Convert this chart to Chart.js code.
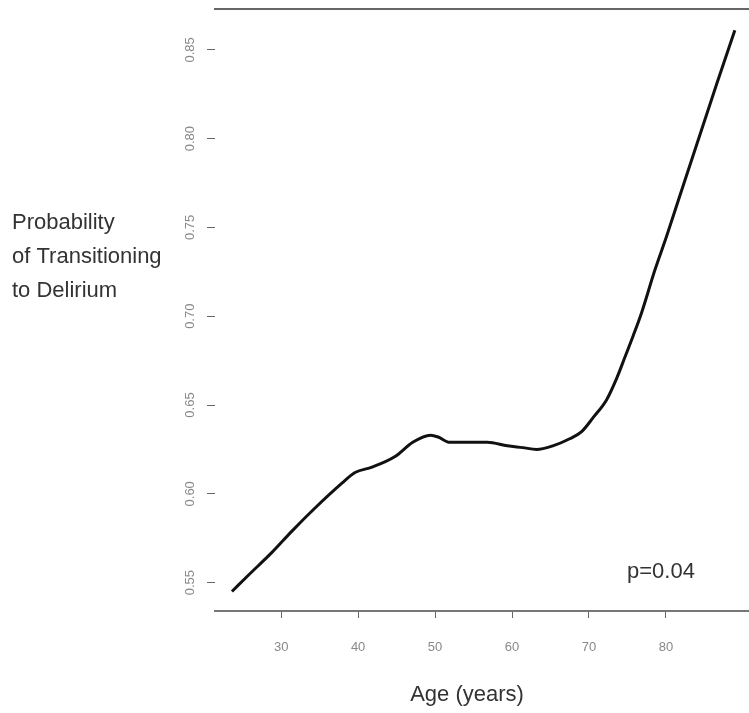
<!DOCTYPE html>
<html lang="en">
<head>
<meta charset="UTF-8">
<title>Probability of Transitioning to Delirium by Age</title>
<script src="https://cdn.jsdelivr.net/npm/chart.js"></script>
<style>
  body { margin: 0; background: #fff; }
  canvas { display: block; }
</style>
</head>
<body>
<canvas id="ageChart" width="749" height="713"></canvas>
<script>
  // curve: age (years) -> probability
  const ages = [23.6, 25.7, 28.8, 31.4, 34.4, 37.9, 39.6, 41.8, 44.8, 47.1,
                49.4, 50.4, 51.9, 54.2, 56.8, 59.4, 61.4, 63.2, 65.3, 67.5,
                69.05, 70.56, 72.3, 73.6, 74.68, 75.75, 76.84, 78.57, 80.09, 81.6,
                86.62, 88.96];
  const probs = [0.545, 0.554, 0.567, 0.579, 0.592, 0.606, 0.612, 0.615, 0.621, 0.629,
                 0.633, 0.632, 0.629, 0.629, 0.629, 0.627, 0.626, 0.625, 0.627, 0.631,
                 0.635, 0.643, 0.653, 0.665, 0.677, 0.689, 0.702, 0.726, 0.745, 0.765,
                 0.831, 0.861];

  const xTicks = [30, 40, 50, 60, 70, 80];
  const yTicks = [0.55, 0.60, 0.65, 0.70, 0.75, 0.80, 0.85];
  const yLabelLines = ['Probability', 'of Transitioning', 'to Delirium'];
  const xTitle = 'Age (years)';
  const pText = 'p=0.04';

  const FONT = '"Liberation Sans", Arial, sans-serif';

  // loose labels drawn the way R placed them (horizontal y label, p value)
  const textPlugin = {
    id: 'looseText',
    afterDraw(chart) {
      const ctx = chart.ctx;
      ctx.save();
      ctx.fillStyle = '#333';
      ctx.font = '22px ' + FONT;
      ctx.textBaseline = 'alphabetic';
      ctx.textAlign = 'left';
      yLabelLines.forEach((line, i) => ctx.fillText(line, 12, 229 + i * 34));
      ctx.fillText(pText, 627, 578);
      ctx.textAlign = 'center';
      ctx.fillText(xTitle, 467, 701);
      ctx.restore();
    }
  };

  new Chart(document.getElementById('ageChart'), {
    type: 'line',
    data: {
      datasets: [{
        data: ages.map((a, i) => ({ x: a, y: probs[i] })),
        borderColor: '#111',
        borderWidth: 3,
        pointRadius: 0,
        cubicInterpolationMode: 'monotone',
        fill: false
      }]
    },
    options: {
      responsive: false,
      animation: false,
      devicePixelRatio: 1,
      layout: { padding: 0 },
      plugins: { legend: { display: false }, tooltip: { enabled: false } },
      scales: {
        x: {
          type: 'linear',
          min: 21.4,
          max: 90.8,
          afterFit: s => { s.height = 102; s.paddingLeft = 0; s.paddingRight = 0; },
          afterBuildTicks: s => { s.ticks = xTicks.map(v => ({ value: v })); },
          border: { display: true, color: '#777', width: 2 },
          grid: { display: true, drawOnChartArea: false, drawTicks: true, tickLength: 7, color: '#666', lineWidth: 1 },
          ticks: { color: '#888', font: { family: FONT, size: 13 }, padding: 22, maxRotation: 0 }
        },
        xTop: {
          type: 'linear',
          position: 'top',
          min: 21.4,
          max: 90.8,
          afterFit: s => { s.height = 9; },
          border: { display: true, color: '#666', width: 2 },
          grid: { display: false },
          ticks: { display: false }
        },
        y: {
          min: 0.534,
          max: 0.873,
          afterFit: s => { s.width = 215; s.paddingTop = 0; s.paddingBottom = 0; },
          afterBuildTicks: s => { s.ticks = yTicks.map(v => ({ value: v })); },
          border: { display: false },
          grid: { display: true, drawOnChartArea: false, drawTicks: true, tickLength: 8, color: '#666', lineWidth: 1 },
          ticks: {
            color: '#888',
            font: { family: FONT, size: 13 },
            padding: 4,
            minRotation: 90,
            maxRotation: 90,
            crossAlign: 'center',
            callback: v => v.toFixed(2)
          }
        }
      }
    },
    plugins: [textPlugin]
  });
</script>
</body>
</html>
